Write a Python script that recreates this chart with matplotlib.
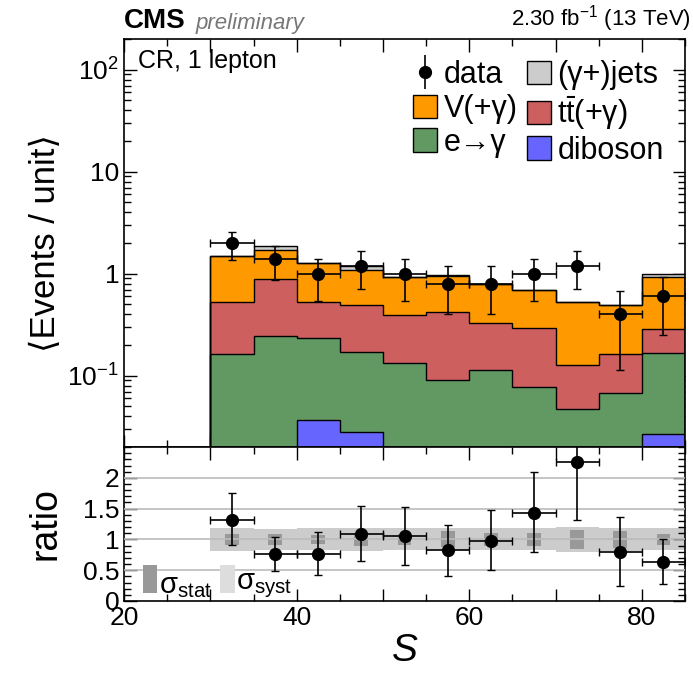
import matplotlib
matplotlib.use("Agg")
import matplotlib.pyplot as plt
from matplotlib.patches import Patch
from matplotlib.lines import Line2D
from matplotlib.ticker import MultipleLocator, LogLocator, NullFormatter, FixedFormatter, FixedLocator
import numpy as np

plt.rcParams['font.family'] = ['Liberation Sans', 'DejaVu Sans']
plt.rcParams['mathtext.fontset'] = 'custom'
plt.rcParams['mathtext.rm'] = 'Liberation Sans'
plt.rcParams['mathtext.it'] = 'Liberation Sans:italic'

# binning in S
edges = np.arange(30, 86, 5)
centers = edges[:-1] + 2.5

# backgrounds (events / unit), stacked bottom to top
diboson = [0.010, 0.010, 0.037, 0.028, 0.010, 0.008, 0.010, 0.008, 0.006, 0.008, 0.027]
egamma = [0.155, 0.235, 0.199, 0.144, 0.124, 0.082, 0.104, 0.069, 0.041, 0.060, 0.140]
ttgamma = [0.365, 0.649, 0.294, 0.323, 0.261, 0.336, 0.213, 0.216, 0.080, 0.095, 0.122]
vgamma = [0.970, 0.796, 0.740, 0.585, 0.525, 0.534, 0.463, 0.394, 0.403, 0.328, 0.641]
gjets = [0.000, 0.160, 0.010, 0.120, 0.010, 0.010, 0.000, 0.003, 0.000, 0.004, 0.060]

# data
data = [2.0, 1.4, 1.0, 1.2, 1.0, 0.8, 0.8, 1.0, 1.2, 0.4, 0.6]
data_up = [0.59, 0.49, 0.41, 0.46, 0.41, 0.40, 0.40, 0.41, 0.46, 0.28, 0.33]
data_dn = [0.65, 0.54, 0.46, 0.49, 0.46, 0.40, 0.40, 0.46, 0.49, 0.285, 0.35]

# ratio data / bkg
ratio = [1.32, 0.76, 0.77, 1.09, 1.06, 0.83, 0.98, 1.43, 2.25, 0.79, 0.63]
ratio_up = [0.43, 0.28, 0.35, 0.46, 0.47, 0.41, 0.50, 0.66, 1.00, 0.58, 0.37]
ratio_dn = [0.41, 0.28, 0.34, 0.44, 0.48, 0.42, 0.48, 0.64, 0.93, 0.55, 0.35]
stat = [0.09, 0.09, 0.07, 0.11, 0.09, 0.13, 0.11, 0.10, 0.16, 0.14, 0.09]
syst = [0.19, 0.17, 0.18, 0.19, 0.18, 0.18, 0.18, 0.18, 0.20, 0.19, 0.18]

c_jets = '#cccccc'
c_v = '#ff9900'
c_tt = '#cd5f5f'
c_eg = '#629962'
c_db = '#6666ff'

fig = plt.figure(figsize=(6.93, 6.80), dpi=100)
ax = fig.add_axes([0.179, 0.3426, 0.8095, 0.600])
rax = fig.add_axes([0.179, 0.1162, 0.8095, 0.2264], sharex=ax)

layers = [diboson, egamma, ttgamma, vgamma, gjets]
colors = [c_db, c_eg, c_tt, c_v, c_jets]
cum = np.cumsum(np.array(layers), axis=0)
# draw from top layer down so lower layers cover upper ones
for i in range(len(layers) - 1, -1, -1):
    ax.stairs(cum[i], edges, baseline=1e-3, fill=True, facecolor=colors[i],
              edgecolor='none', zorder=2)
    ax.stairs(cum[i], edges, baseline=1e-3, fill=False, color='k', lw=1.0, zorder=3)

ax.errorbar(centers, data, yerr=[data_dn, data_up], xerr=2.5, fmt='o', color='k',
            ms=8.5, elinewidth=1.2, capsize=3, capthick=1.0, zorder=5)

ax.set_yscale('log')
ax.set_ylim(0.02, 200)
ax.set_xlim(20, 85)
ax.set_ylabel('\u27e8Events / unit\u27e9', fontsize=25, labelpad=4)
ax.yaxis.set_major_locator(FixedLocator([0.1, 1, 10, 100]))
ax.yaxis.set_major_formatter(FixedFormatter([r'$10^{-1}$', '1', '10', r'$10^{2}$']))
ax.yaxis.set_minor_locator(LogLocator(base=10, subs=np.arange(2, 10)))
ax.yaxis.set_minor_formatter(NullFormatter())
ax.xaxis.set_major_locator(MultipleLocator(10))
ax.xaxis.set_minor_locator(MultipleLocator(5))
ax.tick_params(axis='x', labelbottom=False)

for a in (ax, rax):
    a.tick_params(which='both', direction='in', top=True, right=True, labelsize=19)
    a.tick_params(which='major', length=9, width=1)
    a.tick_params(which='minor', length=5, width=1)
    for s in a.spines.values():
        s.set_linewidth(1.2)

ax.text(0.025, 0.975, 'CR, 1 lepton', transform=ax.transAxes, fontsize=18,
        ha='left', va='top')
ax.text(0.0, 1.012, 'CMS', transform=ax.transAxes, fontsize=20, fontweight='bold',
        ha='left', va='bottom')
ax.text(0.128, 1.012, 'preliminary', transform=ax.transAxes, fontsize=16,
        style='italic', color='#777777', ha='left', va='bottom')
ax.text(1.01, 1.012, r'2.30 fb$^{-1}$ (13 TeV)', transform=ax.transAxes, fontsize=16,
        ha='right', va='bottom')

h_data = (Line2D([], [], marker='|', ms=24, mew=1.2, color='k', ls='none'),
          Line2D([], [], marker='o', ms=8.5, color='k', ls='none'))
handles = [h_data,
           Patch(facecolor=c_v, edgecolor='k', lw=1),
           Patch(facecolor=c_eg, edgecolor='k', lw=1),
           Patch(facecolor=c_jets, edgecolor='k', lw=1),
           Patch(facecolor=c_tt, edgecolor='k', lw=1),
           Patch(facecolor=c_db, edgecolor='k', lw=1)]
labels = ['data', 'V(+\u03b3)', 'e\u2192\u03b3', '(\u03b3+)jets',
          't$\\bar{\\mathrm{t}}$(+\u03b3)', 'diboson']
ax.legend(handles, labels, ncol=2, loc='upper right', bbox_to_anchor=(1.0, 1.0),
          frameon=False, fontsize=22, handlelength=0.8, handleheight=0.8,
          handletextpad=0.2, columnspacing=0.3, labelspacing=0.12, borderpad=0.2)

# ratio panel
for g in (0.5, 1.0, 1.5, 2.0):
    rax.axhline(g, color='#bbbbbb', lw=1.2, zorder=3)
syst_a = np.array(syst)
stat_a = np.array(stat)
rax.stairs(1 + syst_a, edges, baseline=1 - syst_a, fill=True, color='#cccccc',
           lw=0, zorder=1)
rax.bar(centers, 2 * stat_a, bottom=1 - stat_a, width=1.6, color='#999999',
        lw=0, zorder=2)
rax.errorbar(centers, ratio, yerr=[ratio_dn, ratio_up], xerr=2.5, fmt='o', color='k',
             ms=8.5, elinewidth=1.2, capsize=3, capthick=1.0, zorder=5)

# band legend
rax.bar([23.0], [0.45], bottom=0.13, width=1.7, color='#999999', lw=0, zorder=4)
rax.text(24.0, 0.02, '\u03c3$_{\\mathrm{stat}}$', fontsize=21, ha='left', va='bottom', zorder=6)
rax.bar([32.0], [0.45], bottom=0.13, width=1.7, color='#dddddd', lw=0, zorder=4)
rax.text(33.0, 0.02, '\u03c3$_{\\mathrm{syst}}$', fontsize=21, ha='left', va='bottom', zorder=6)

rax.set_ylim(0, 2.5)
rax.yaxis.set_major_locator(FixedLocator([0, 0.5, 1, 1.5, 2]))
rax.yaxis.set_major_formatter(FixedFormatter(['0', '0.5', '1', '1.5', '2']))
rax.yaxis.set_minor_locator(MultipleLocator(0.1))
rax.xaxis.set_major_locator(FixedLocator([20, 30, 40, 50, 60, 70, 80]))
rax.xaxis.set_major_formatter(FixedFormatter(['20', '', '40', '', '60', '', '80']))
rax.xaxis.set_minor_locator(MultipleLocator(5))
rax.set_ylabel('ratio', fontsize=27, labelpad=14)
rax.set_xlabel(r'$S$', fontsize=28, labelpad=2)

fig.savefig('out.png', dpi=100)
